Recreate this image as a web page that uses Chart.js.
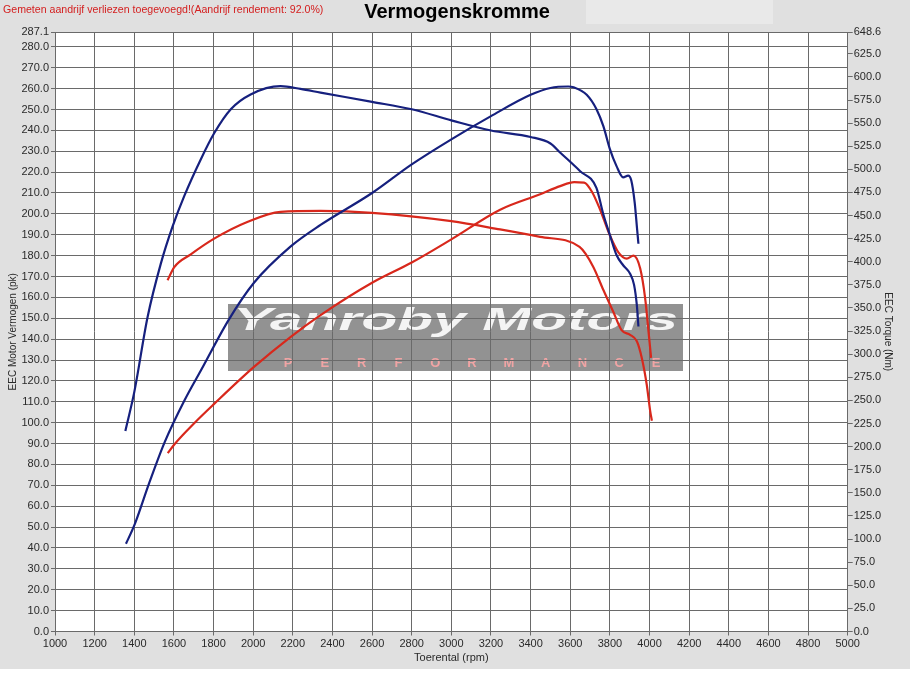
<!DOCTYPE html>
<html>
<head>
<meta charset="utf-8">
<script src="https://cdn.jsdelivr.net/npm/chart.js@4.4.1/dist/chart.umd.min.js"></script>
<style>
  body { margin: 0; background: #e0e0e0; }
  canvas { display: block; }
</style>
</head>
<body>
<canvas id="dyno" width="910" height="677"></canvas>
<script>
////// Data //////
// blue = after tuning, red = stock; power in pk (left), torque in Nm (right)
const rpmBluePower = [1358, 1400, 1476, 1553, 1655, 1736, 1878, 2004, 2188, 2340, 2600, 2800, 3000, 3200, 3400, 3500, 3590, 3617, 3683, 3733, 3767, 3800, 3833, 3867, 3892, 3908, 3925, 3937, 3944];
const bluePower    = [42, 50.8, 71.3, 90.6, 111, 125, 149.5, 167, 184.3, 194.7, 210, 223.7, 235.7, 246.8, 257, 260.3, 261, 260.6, 257, 250, 242, 231, 223, 217.5, 218.3, 216, 205.5, 193, 185.7];

const rpmBlueTorque = [1355, 1400, 1467, 1534, 1593, 1652, 1736, 1803, 1887, 1987, 2138, 2239, 2340, 2600, 2800, 3000, 3200, 3400, 3500, 3550, 3650, 3732, 3766, 3800, 3834, 3868, 3902, 3922, 3936, 3944];
const blueTorque    = [217, 259, 340, 398, 438, 471, 511, 539, 565, 581, 590, 587, 583, 573, 565, 553, 542, 535, 528, 518, 498, 480, 452, 429, 407, 396, 387, 375, 353, 330];

const rpmRedPower = [1569, 1603, 1705, 1803, 2004, 2188, 2340, 2600, 2800, 3000, 3246, 3448, 3549, 3620, 3670, 3710, 3749, 3800, 3842, 3885, 3919, 3953, 3978, 3995, 4008];
const redPower    = [85.4, 89.7, 100, 109, 126.7, 141, 151.5, 167, 176.7, 187.8, 202, 209.4, 213.3, 215.2, 215, 210.5, 202.4, 189.7, 181.7, 178.6, 180, 173.8, 159.5, 143.6, 131];

const rpmRedTorque = [1568, 1601, 1685, 1803, 1970, 2138, 2340, 2600, 3000, 3246, 3448, 3647, 3715, 3766, 3817, 3859, 3902, 3936, 3961, 3986, 4003, 4012];
const redTorque    = [380, 394, 408, 425, 443, 454, 455, 453, 444, 435, 427, 416, 395, 370, 346, 326, 321, 314, 296, 267, 239, 228];

const pkTicks = [0, 10, 20, 30, 40, 50, 60, 70, 80, 90, 100, 110, 120, 130, 140, 150, 160, 170, 180, 190, 200, 210, 220, 230, 240, 250, 260, 270, 280, 287.1];
const nmTicks = [0, 25, 50, 75, 100, 125, 150, 175, 200, 225, 250, 275, 300, 325, 350, 375, 400, 425, 450, 475, 500, 525, 550, 575, 600, 625, 648.6];

const BLUE = '#16207e';
const RED = '#d8281c';
const GRID = '#6a6a6a';
const TXT = '#2a2a2a';

function pts(xs, ys) {
    return xs.map(function (x, i) { return { x: x, y: ys[i] }; });
}

////// background, watermark, header texts //////
const sheetPlugin = {
    id: 'sheet',
    beforeDraw: function (chart) {
        const ctx = chart.ctx;
        const a = chart.chartArea;
        ctx.save();
        ctx.fillStyle = '#e0e0e0';
        ctx.fillRect(0, 0, chart.width, chart.height);
        ctx.fillStyle = '#e9e9e9';
        ctx.fillRect(586, 0, 187, 24);
        ctx.fillStyle = '#ffffff';
        ctx.fillRect(0, 669, chart.width, chart.height - 669);
        ctx.fillRect(a.left, a.top, a.right - a.left, a.bottom - a.top);

        // watermark
        ctx.fillStyle = '#929292';
        ctx.fillRect(228, 304, 455, 67);
        ctx.font = 'italic bold 32px "Liberation Sans", Arial, sans-serif';
        const w = ctx.measureText('Yanroby Motors').width;
        ctx.save();
        ctx.translate(233, 330);
        ctx.scale(445 / w, 1);
        ctx.fillStyle = '#f4f4f4';
        ctx.textBaseline = 'alphabetic';
        ctx.fillText('Yanroby Motors', 0, 0);
        ctx.restore();
        ctx.font = 'bold 13px "Liberation Sans", Arial, sans-serif';
        ctx.fillStyle = '#f0a4a4';
        ctx.textAlign = 'center';
        ctx.textBaseline = 'middle';
        const word = 'PERFORMANCE';
        for (let i = 0; i < word.length; i++) {
            ctx.fillText(word[i], 288 + i * 36.8, 363);
        }

        // header
        ctx.textAlign = 'left';
        ctx.font = '10.6px "Liberation Sans", Arial, sans-serif';
        ctx.fillStyle = '#d42020';
        ctx.fillText('Gemeten aandrijf verliezen toegevoegd!(Aandrijf rendement: 92.0%)', 3, 10);
        ctx.textAlign = 'center';
        ctx.font = 'bold 20px "Liberation Sans", Arial, sans-serif';
        ctx.fillStyle = '#000000';
        ctx.fillText('Vermogenskromme', 457, 12);
        ctx.restore();
    }
};

const tickFont = { family: '"Liberation Sans", Arial, sans-serif', size: 11 };

const config = {
    type: 'line',
    data: {
        datasets: [
            { label: 'Vermogen', data: pts(rpmBluePower, bluePower), borderColor: BLUE, yAxisID: 'y' },
            { label: 'Koppel', data: pts(rpmBlueTorque, blueTorque), borderColor: BLUE, yAxisID: 'yT' },
            { label: 'Vermogen standaard', data: pts(rpmRedPower, redPower), borderColor: RED, yAxisID: 'y' },
            { label: 'Koppel standaard', data: pts(rpmRedTorque, redTorque), borderColor: RED, yAxisID: 'yT' }
        ]
    },
    options: {
        responsive: false,
        animation: false,
        layout: { padding: { top: 32, left: 0, right: 0, bottom: 0 } },
        elements: {
            line: { borderWidth: 2.2, cubicInterpolationMode: 'monotone', fill: false },
            point: { radius: 0 }
        },
        plugins: {
            legend: { display: false },
            tooltip: { enabled: false }
        },
        scales: {
            x: {
                type: 'linear',
                min: 1000,
                max: 5000,
                grid: { color: GRID, tickLength: 4 },
                border: { color: GRID },
                ticks: {
                    stepSize: 200,
                    font: tickFont,
                    color: TXT,
                    padding: 2,
                    maxRotation: 0,
                    autoSkip: false,
                    callback: function (v) { return String(v); }
                },
                title: {
                    display: true,
                    text: 'Toerental (rpm)',
                    font: tickFont,
                    color: TXT,
                    padding: { top: 0, bottom: 12 }
                },
                afterFit: function (s) { s.height = 45.5; }
            },
            y: {
                position: 'left',
                min: 0,
                max: 287.1,
                afterBuildTicks: function (s) {
                    s.ticks = pkTicks.map(function (v) { return { value: v }; });
                },
                grid: { color: GRID, tickLength: 4 },
                border: { color: GRID },
                ticks: {
                    font: tickFont,
                    color: TXT,
                    padding: 2,
                    autoSkip: false,
                    callback: function (v) { return Number(v).toFixed(1); }
                },
                title: {
                    display: true,
                    text: 'EEC Motor Vermogen (pk)',
                    font: { family: '"Liberation Sans", Arial, sans-serif', size: 10 },
                    color: TXT,
                    padding: { top: 7, bottom: 0 }
                },
                afterFit: function (s) { s.width = 55; }
            },
            yT: {
                position: 'right',
                min: 0,
                max: 648.6,
                afterBuildTicks: function (s) {
                    s.ticks = nmTicks.map(function (v) { return { value: v }; });
                },
                grid: { drawOnChartArea: false, color: GRID, tickLength: 5 },
                border: { color: GRID },
                ticks: {
                    font: tickFont,
                    color: TXT,
                    padding: 1,
                    autoSkip: false,
                    callback: function (v) { return Number(v).toFixed(1); }
                },
                title: {
                    display: true,
                    text: 'EEC Torque (Nm)',
                    font: { family: '"Liberation Sans", Arial, sans-serif', size: 10 },
                    color: TXT,
                    padding: { top: 16, bottom: 0 }
                },
                afterFit: function (s) { s.width = 62.3; }
            }
        }
    },
    plugins: [sheetPlugin]
};

var dynoChart = new Chart(document.getElementById('dyno'), config);
</script>
</body>
</html>
